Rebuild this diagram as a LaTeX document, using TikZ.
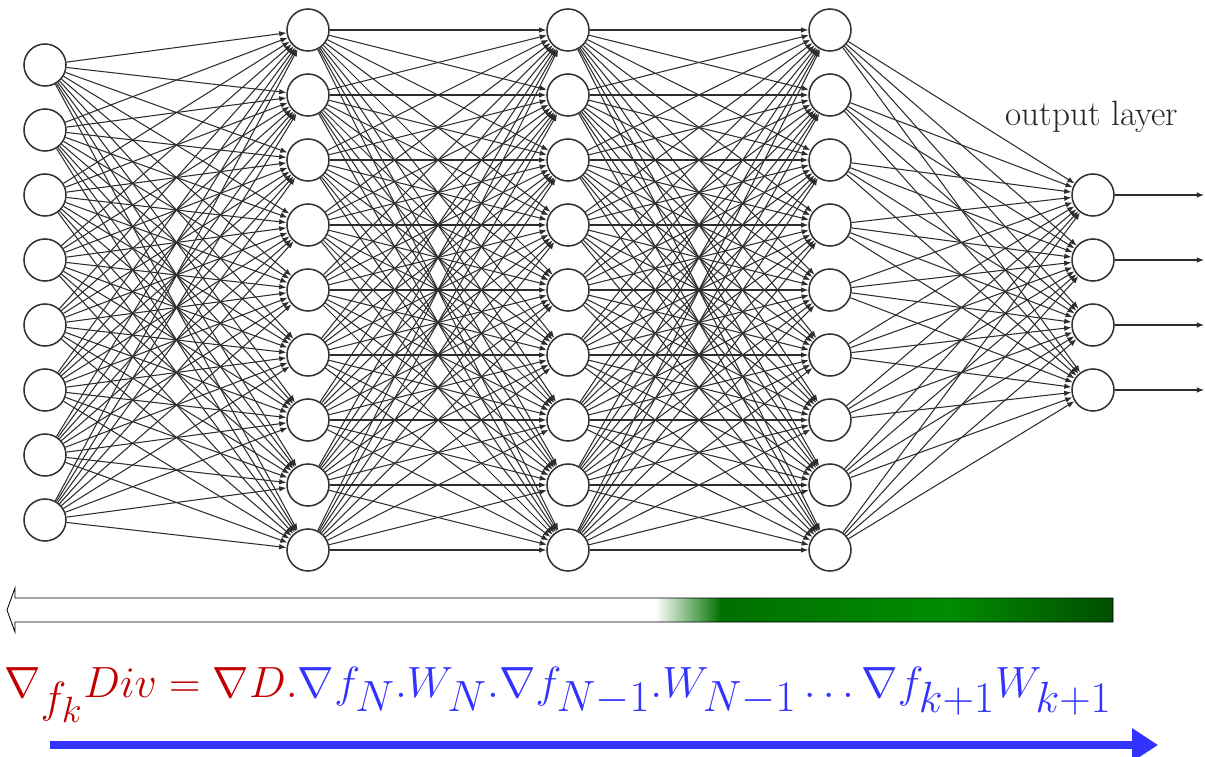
\documentclass[tikz,border=0pt]{standalone}
\usepackage{amsmath}
\usepackage{xcolor}
\usepackage{tikz}
\usetikzlibrary{arrows.meta,positioning,calc}
\definecolor{gradred}{RGB}{192,0,0}
\definecolor{gradblue}{RGB}{51,51,255}
\definecolor{wire}{RGB}{45,45,45}
\definecolor{gdark}{RGB}{0,112,0}
\definecolor{gbright}{RGB}{0,140,0}
\definecolor{gdeep}{RGB}{0,78,0}
% backward flow bar: white, then fading into green (path maps onto 25bp--75bp)
\pgfdeclarehorizontalshading{backflow}{100bp}{color(0bp)=(white); color(54.3bp)=(white);
  color(57.3bp)=(gdark); color(67.6bp)=(gbright); color(75bp)=(gdeep); color(100bp)=(gdeep)}
\tikzset{
  neuron/.style={circle,draw=black!80,line width=1.1pt,fill=white,minimum size=1.05cm,inner sep=0pt},
  edge/.style={draw=wire,line width=0.75pt,-{Latex[length=1.8mm,width=1.4mm]}},
  outedge/.style={edge},
  lablayer/.style={font=\fontsize{25}{30}\selectfont,text=black!85},
  formula/.style={font=\fontsize{42}{50}\selectfont,inner sep=0pt},
  fwd/.style={draw=gradblue,line width=5.6pt,-{Triangle[length=6.5mm,width=8mm]}},
}
\begin{document}
\begin{tikzpicture}[x=0.025cm,y=-0.025cm]
  \useasboundingbox (0,0) rectangle (1205,757);
  % layers
  \foreach \i in {1,...,8}
    \node[neuron] (in\i) at (45,{65*\i}) {};
  \foreach \l/\x in {1/308,2/568,3/830}
    \foreach \j in {1,...,9}
      \node[neuron] (h\l-\j) at (\x,{65*\j-35}) {};
  \foreach \j in {1,...,4}
    \node[neuron] (out\j) at (1093,{130+65*\j}) {};
  \node[lablayer] (outlab) at (1092,117) {output layer};
  % weights
  \foreach \i in {1,...,8}
    \foreach \j in {1,...,9}
      \draw[edge] (in\i) -- (h1-\j);
  \foreach \l/\m in {1/2,2/3}
    \foreach \i in {1,...,9}
      \foreach \j in {1,...,9}
        \draw[edge] (h\l-\i) -- (h\m-\j);
  \foreach \i in {1,...,9}
    \foreach \j in {1,...,4}
      \draw[edge] (h3-\i) -- (out\j);
  \foreach \j in {1,...,4} {
    \coordinate (y\j) at (1204,{130+65*\j});
    \draw[outedge] (out\j) -- (y\j);
  }
  % backward bar
  \shade[shading=backflow,draw=black,line width=0.6pt]
    (1113,598) -- (15,598) -- (15,588) -- (7,610) -- (15,632) -- (15,622) -- (1113,622) -- cycle;
  % chain rule
  \node[formula,anchor=base west] (chain) at (4,697)
    {\scalebox{1.25}{$\color{gradred}\nabla_{f_k}Div=\nabla D.{\color{gradblue}\nabla f_N.W_N.\nabla f_{N-1}.W_{N-1}\dots\nabla f_{k+1}W_{k+1}}$}};
  \coordinate (fs) at (50,745);
  \coordinate (fe) at (1158,745);
  \draw[fwd] (fs) -- (fe);
\end{tikzpicture}
\end{document}
